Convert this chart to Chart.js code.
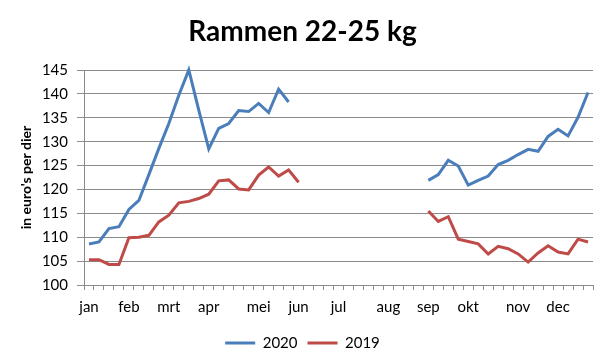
<!DOCTYPE html>
<html>
<head>
<meta charset="utf-8">
<script src="https://cdn.jsdelivr.net/npm/chart.js@4/dist/chart.umd.min.js"></script>
<style>
  html, body { margin: 0; padding: 0; background: #fff; }
  #wrap { width: 614px; height: 363px; }
</style>
</head>
<body>
<div id="wrap"><canvas id="c" width="614" height="363"></canvas></div>
<script>
// Weekly categories (51 weeks)
const weeks = [1,2,3,4,5,6,7,8,9,10,11,12,13,14,15,16,17,18,19,20,21,22,23,24,25,26,27,28,29,30,31,32,33,34,35,36,37,38,39,40,41,42,43,44,45,46,47,48,49,50,51];
// Month tick labels and the week index where each is shown
const monthLabels = ["jan","feb","mrt","apr","mei","jun","jul","aug","sep","okt","nov","dec"];
const monthIndex = [0,4,8,12,17,21,25,30,34,38,43,47];

const values2020 = [108.6,109.0,111.8,112.2,115.8,117.7,123.1,128.6,133.8,139.7,145.0,136.6,128.5,132.8,133.8,136.5,136.3,138.0,136.1,141.0,138.3,
  null,null,null,null,null,null,null,null,null,null,null,null,null,
  121.9,123.1,126.1,124.9,120.9,121.9,122.8,125.2,126.1,127.3,128.4,128.0,131.1,132.6,131.2,135.1,140.3];
const values2019 = [105.3,105.3,104.3,104.3,109.9,110.0,110.4,113.2,114.6,117.2,117.5,118.1,119.0,121.8,122.0,120.1,119.9,123.0,124.7,122.8,124.1,121.5,
  null,null,null,null,null,null,null,null,null,null,null,null,
  115.5,113.3,114.3,109.6,109.1,108.6,106.5,108.1,107.6,106.5,104.8,106.7,108.2,106.9,106.5,109.6,109.0];

const yTicks = [100,105,110,115,120,125,130,135,140,145];

const tickLabels = weeks.map((w, i) => {
  const k = monthIndex.indexOf(i);
  return k >= 0 ? monthLabels[k] : "";
});

const FONT = "Lato, 'Open Sans', sans-serif";
const GRID = "#8a8a8a";

new Chart(document.getElementById('c'), {
  type: 'line',
  data: {
    labels: weeks,
    datasets: [
      { label: '2020', data: values2020, borderColor: '#4A7EBB', backgroundColor: '#4A7EBB',
        borderWidth: 3, pointRadius: 0, tension: 0, spanGaps: false, clip: false },
      { label: '2019', data: values2019, borderColor: '#BE4B48', backgroundColor: '#BE4B48',
        borderWidth: 3, pointRadius: 0, tension: 0, spanGaps: false, clip: false }
    ]
  },
  options: {
    responsive: false,
    animation: false,
    devicePixelRatio: 1,
    layout: { padding: { left: 12, right: 21, top: 0, bottom: 2.5 } },
    plugins: {
      title: {
        display: true,
        text: 'Rammen 22-25 kg',
        color: '#000',
        font: { family: FONT, size: 28, weight: 'bold', lineHeight: 1.2 },
        padding: { top: 15, bottom: 21.4 }
      },
      legend: {
        position: 'bottom',
        labels: {
          color: '#000',
          font: { family: FONT, size: 15 },
          usePointStyle: true,
          pointStyle: 'line',
          pointStyleWidth: 30,
          padding: 10
        }
      },
      tooltip: { enabled: false }
    },
    scales: {
      x: {
        type: 'category',
        offset: true,
        afterFit: (s) => { s.height = 40.5; },
        grid: { offset: true, drawOnChartArea: false, drawTicks: true, tickLength: 5, color: GRID },
        border: { display: true, color: GRID, width: 1 },
        ticks: {
          autoSkip: false, maxRotation: 0, minRotation: 0, padding: 8,
          color: '#000', font: { family: FONT, size: 15 },
          callback: (v, i) => tickLabels[i]
        }
      },
      y: {
        min: 100, max: 145,
        afterFit: (s) => { s.width = 72; },
        afterBuildTicks: (s) => { s.ticks = yTicks.map(v => ({ value: v })); },
        grid: { color: GRID, tickLength: 7, drawTicks: true },
        border: { display: true, color: GRID, width: 1 },
        ticks: { stepSize: 5, padding: 9, color: '#000', font: { family: FONT, size: 15 } },
        title: {
          display: true, text: "in euro's per dier", color: '#000',
          font: { family: FONT, size: 14, weight: 'bold', lineHeight: 1.2 },
          padding: { top: 6, bottom: 0 }
        }
      }
    }
  }
});
</script>
</body>
</html>
